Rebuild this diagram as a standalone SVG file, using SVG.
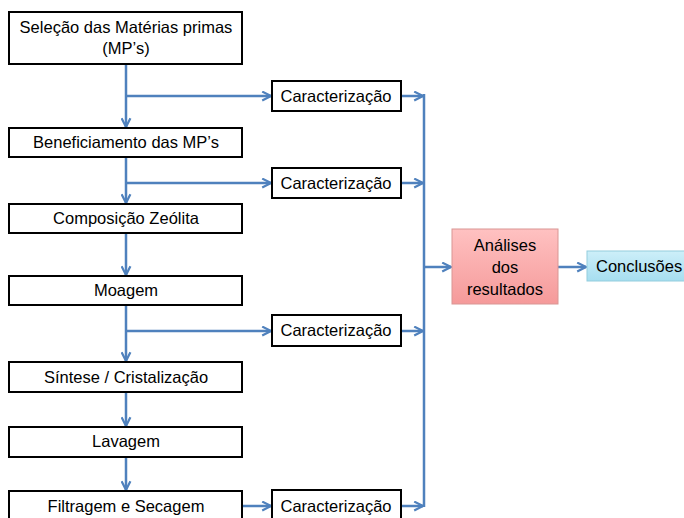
<svg xmlns="http://www.w3.org/2000/svg" width="684" height="518" viewBox="0 0 684 518">
<defs>
<marker id="ah" viewBox="0 0 10 10" refX="9" refY="5" markerWidth="4.4" markerHeight="4.4" orient="auto" markerUnits="strokeWidth">
<path d="M1,1 L9,5 L1,9" fill="none" stroke="#4F81BD" stroke-width="2"/>
</marker>
<linearGradient id="pink" x1="0" y1="0" x2="0" y2="1">
<stop offset="0" stop-color="#FFC1C1"/>
<stop offset="1" stop-color="#F59A9A"/>
</linearGradient>
<linearGradient id="cyan" x1="0" y1="0" x2="0" y2="1">
<stop offset="0" stop-color="#CDEFF9"/>
<stop offset="1" stop-color="#A6DEF0"/>
</linearGradient>
</defs>
<style>
.box{fill:#fff;stroke:#000;stroke-width:2}
.t{font-family:"Liberation Sans",Arial,sans-serif;font-size:16.5px;fill:#000;text-anchor:middle}
.c{fill:none;stroke:#4F81BD;stroke-width:2.5}
.a{marker-end:url(#ah)}
</style>
<rect width="684" height="518" fill="#fff"/>
<g id="connectors">
<path class="c a" d="M126,64 V127"/>
<path class="c a" d="M126,157 V203"/>
<path class="c a" d="M126,233 V275"/>
<path class="c a" d="M126,305 V361"/>
<path class="c a" d="M126,392 V426"/>
<path class="c a" d="M126,457 V490"/>
<path class="c a" d="M126,96 H271"/>
<path class="c a" d="M126,183 H271"/>
<path class="c a" d="M126,331 H271"/>
<path class="c a" d="M242,506 H271"/>
<path class="c a" d="M401,96 H423"/>
<path class="c a" d="M401,183 H423"/>
<path class="c a" d="M401,331 H423"/>
<path class="c a" d="M401,506 H423"/>
<path class="c" d="M424,94 V507"/>
<path class="c a" d="M424,267 H451"/>
<path class="c a" d="M558,267 H586"/>
</g>
<g id="n1"><rect class="box" x="9" y="12" width="233" height="52"/>
<text class="t" x="126" y="33">Seleção das Matérias primas</text>
<text class="t" x="126" y="54">(MP’s)</text></g>
<g id="n2"><rect class="box" x="9" y="128" width="233" height="29"/>
<text class="t" x="126" y="148">Beneficiamento das MP’s</text></g>
<g id="n3"><rect class="box" x="9" y="204" width="233" height="29"/>
<text class="t" x="126" y="224">Composição Zeólita</text></g>
<g id="n4"><rect class="box" x="9" y="276" width="233" height="29"/>
<text class="t" x="126" y="296">Moagem</text></g>
<g id="n5"><rect class="box" x="9" y="362" width="233" height="30"/>
<text class="t" x="126" y="383">Síntese / Cristalização</text></g>
<g id="n6"><rect class="box" x="9" y="427" width="233" height="30"/>
<text class="t" x="126" y="447">Lavagem</text></g>
<g id="n7"><rect class="box" x="9" y="491" width="233" height="32"/>
<text class="t" x="126" y="512">Filtragem e Secagem</text></g>
<g id="c1"><rect class="box" x="272" y="81" width="129" height="30"/>
<text class="t" x="336" y="102">Caracterização</text></g>
<g id="c2"><rect class="box" x="272" y="168" width="129" height="30"/>
<text class="t" x="336" y="189">Caracterização</text></g>
<g id="c3"><rect class="box" x="272" y="315" width="129" height="31"/>
<text class="t" x="336" y="336">Caracterização</text></g>
<g id="c4"><rect class="box" x="272" y="490" width="129" height="32"/>
<text class="t" x="336" y="512">Caracterização</text></g>
<g id="analises"><rect x="452" y="229" width="106" height="75" fill="url(#pink)" stroke="#D99694" stroke-width="1"/>
<text class="t" x="505" y="251">Análises</text>
<text class="t" x="505" y="273">dos</text>
<text class="t" x="505" y="295">resultados</text></g>
<g id="conclusoes"><rect x="587" y="251" width="110" height="30" fill="url(#cyan)" stroke="#93CDDD" stroke-width="1"/>
<text class="t" x="596" y="272" style="text-anchor:start">Conclusões</text></g>
</svg>
